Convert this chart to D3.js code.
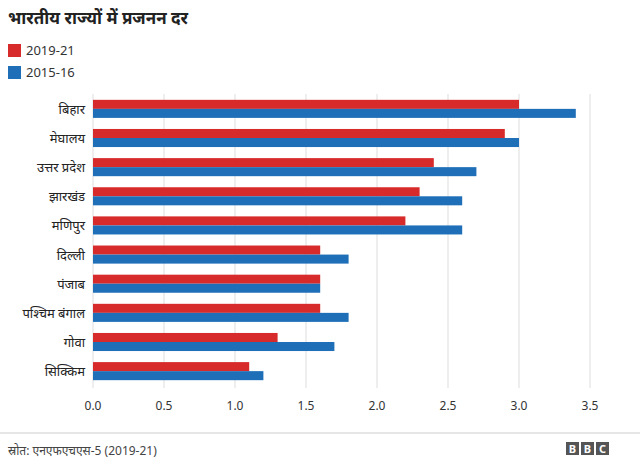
<!DOCTYPE html>
<html><head><meta charset="utf-8">
<script src="https://cdn.jsdelivr.net/npm/d3@7"></script>
<style>body{margin:0;background:#fff;font-family:"Noto Sans",sans-serif}</style>
</head><body><svg id="c" width="640" height="474"></svg>
<script>
var states = ['बिहार','मेघालय','उत्तर प्रदेश','झारखंड','मणिपुर','दिल्ली','पंजाब','पश्चिम बंगाल','गोवा','सिक्किम'];
var v2019 = [3.0, 2.9, 2.4, 2.3, 2.2, 1.6, 1.6, 1.6, 1.3, 1.1];
var v2015 = [3.4, 3.0, 2.7, 2.6, 2.6, 1.8, 1.6, 1.8, 1.7, 1.2];
var ticks = [0, 0.5, 1, 1.5, 2, 2.5, 3, 3.5];
var series = [{name:'2019-21', color:'#d72a2a', vals:v2019}, {name:'2015-16', color:'#1f6fb8', vals:v2015}];

var svg = d3.select('#c');
var x = d3.scaleLinear().domain([0, 3.5]).range([93, 590]);
var y = d3.scaleBand().domain(states).range([94, 386]).paddingInner(0.38).paddingOuter(0.2);

svg.append('text').attr('x', 8).attr('y', 24).attr('font-size', 17).attr('font-weight', 'bold')
  .attr('fill', '#222').text('भारतीय राज्यों में प्रजनन दर');

series.forEach(function(s, i) {
  svg.append('rect').attr('x', 8).attr('y', 44 + i * 22).attr('width', 13).attr('height', 13).attr('fill', s.color);
  svg.append('text').attr('x', 26).attr('y', 55 + i * 22).attr('font-size', 13).attr('fill', '#333').text(s.name);
});

svg.selectAll('.grid').data(ticks).enter().append('line')
  .attr('x1', d => x(d)).attr('x2', d => x(d)).attr('y1', 94).attr('y2', 388)
  .attr('stroke', '#ddd');

var bh = y.bandwidth() / 2;
series.forEach(function(s, i) {
  svg.selectAll('.b' + i).data(states).enter().append('rect')
    .attr('x', x(0)).attr('y', d => y(d) + i * bh)
    .attr('width', (d, j) => x(s.vals[j]) - x(0)).attr('height', bh)
    .attr('fill', s.color);
});

svg.selectAll('.lab').data(states).enter().append('text')
  .attr('x', 85).attr('y', d => y(d) + y.bandwidth() / 2 + 5)
  .attr('text-anchor', 'end').attr('font-size', 13).attr('fill', '#222').text(d => d);

svg.selectAll('.tk').data(ticks).enter().append('text')
  .attr('x', d => x(d)).attr('y', 410).attr('text-anchor', 'middle')
  .attr('font-size', 12).attr('fill', '#333').text(d => d.toFixed(1));

svg.append('line').attr('x1', 0).attr('x2', 640).attr('y1', 433).attr('y2', 433).attr('stroke', '#ccc');
svg.append('text').attr('x', 8).attr('y', 455).attr('font-size', 12).attr('fill', '#444')
  .text('स्रोत: एनएफएचएस-5 (2019-21)');
['B','B','C'].forEach(function(l, i) {
  svg.append('rect').attr('x', 566 + i * 15).attr('y', 442).attr('width', 13).attr('height', 13).attr('fill', '#555');
  svg.append('text').attr('x', 572.5 + i * 15).attr('y', 453).attr('text-anchor', 'middle')
    .attr('font-size', 11).attr('font-weight', 'bold').attr('fill', '#fff').text(l);
});
</script></body></html>
